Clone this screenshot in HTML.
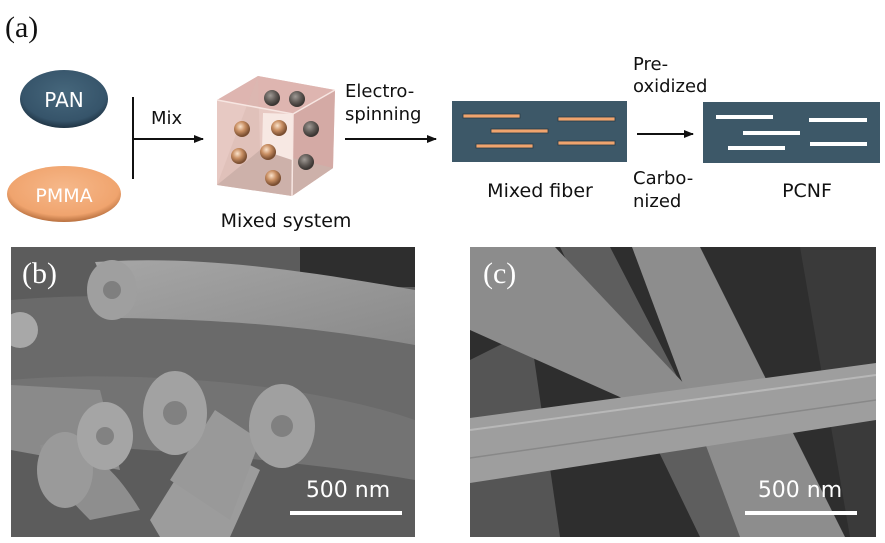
<!DOCTYPE html>
<html><head><meta charset="utf-8"><style>
body{margin:0;width:885px;height:543px;background:#fff;overflow:hidden;position:relative;font-family:"DejaVu Sans","Liberation Sans",sans-serif;}
</style></head><body>
<svg width="885" height="543" viewBox="0 0 885 543" style="position:absolute;left:0;top:0">
<defs>
<radialGradient id="pan" cx="50%" cy="40%" r="60%"><stop offset="0" stop-color="#46677c"/><stop offset="0.8" stop-color="#36546a"/><stop offset="1" stop-color="#1f3444"/></radialGradient>
<radialGradient id="pm" cx="50%" cy="40%" r="60%"><stop offset="0" stop-color="#f6b88a"/><stop offset="0.8" stop-color="#f0a46e"/><stop offset="1" stop-color="#b8703f"/></radialGradient>
<radialGradient id="bo" cx="40%" cy="35%" r="60%"><stop offset="0" stop-color="#fbe3cc"/><stop offset="0.5" stop-color="#c98f63"/><stop offset="1" stop-color="#7a4e31"/></radialGradient>
<radialGradient id="bg" cx="40%" cy="35%" r="60%"><stop offset="0" stop-color="#a09a95"/><stop offset="0.6" stop-color="#5f5955"/><stop offset="1" stop-color="#3b3633"/></radialGradient>
<linearGradient id="fb" x1="0" y1="0" x2="1" y2="1"><stop offset="0" stop-color="#a6a6a6"/><stop offset="1" stop-color="#8a8a8a"/></linearGradient>
<marker id="ar" markerWidth="10" markerHeight="8" refX="9" refY="4" orient="auto" markerUnits="userSpaceOnUse"><path d="M0,0 L10,4 L0,8 z" fill="#111"/></marker>
<clipPath id="cb"><rect x="11" y="247" width="404" height="290"/></clipPath>
<clipPath id="cc"><rect x="470" y="247" width="406" height="290"/></clipPath>
</defs>
<text x="5" y="37" font-family="Liberation Serif,serif" font-size="30" fill="#111">(a)</text>
<ellipse cx="64" cy="99" rx="44" ry="29" fill="url(#pan)"/>
<text x="64" y="107" font-size="20" fill="#fff" text-anchor="middle">PAN</text>
<ellipse cx="64" cy="194" rx="57" ry="28" fill="url(#pm)"/>
<text x="64" y="202" font-size="19" fill="#fff" text-anchor="middle">PMMA</text>
<line x1="133" y1="97" x2="133" y2="179" stroke="#111" stroke-width="2"/>
<line x1="133" y1="139" x2="203" y2="139" stroke="#111" stroke-width="2" marker-end="url(#ar)"/>
<text x="151" y="124" font-size="18" fill="#111">Mix</text>
<polygon points="217,100 258,76 335,90 333,168 292,196 217,185" fill="#e7c9c3"/>
<polygon points="217,100 258,76 335,90 293,114" fill="#deb5b0"/>
<polygon points="293,114 335,90 333,168 292,196" fill="#d4aaa5"/>
<polygon points="258,76 260,150 217,185" fill="#d9b9b2" opacity="0.5"/>
<polygon points="260,150 333,168 292,196 217,185" fill="#cdb1aa"/>
<polygon points="263,113 293,114 292,160 262,150" fill="#f7e8e3"/>
<polyline points="217,100 293,114 335,90" fill="none" stroke="#f7e6e2" stroke-width="1.5"/>
<line x1="293" y1="114" x2="292" y2="196" stroke="#f7e6e2" stroke-width="1.5"/>
<circle cx="272" cy="98" r="8" fill="url(#bg)"/><circle cx="297" cy="99" r="8" fill="url(#bg)"/>
<circle cx="242" cy="129" r="8" fill="url(#bo)"/><circle cx="279" cy="128" r="8" fill="url(#bo)"/><circle cx="311" cy="129" r="8" fill="url(#bg)"/>
<circle cx="239" cy="156" r="8" fill="url(#bo)"/><circle cx="268" cy="152" r="8" fill="url(#bo)"/><circle cx="306" cy="162" r="8" fill="url(#bg)"/>
<circle cx="273" cy="178" r="8" fill="url(#bo)"/>
<text x="286" y="227" font-size="19" fill="#111" text-anchor="middle">Mixed system</text>
<text x="345" y="97" font-size="18" fill="#111">Electro-</text>
<text x="345" y="120" font-size="18" fill="#111">spinning</text>
<line x1="345" y1="139" x2="436" y2="139" stroke="#111" stroke-width="2" marker-end="url(#ar)"/>
<rect x="452" y="101" width="175" height="61" fill="#3d5868"/>
<g fill="#f0a46e" stroke="#2a3b45" stroke-width="0.8">
<rect x="463" y="114" width="57" height="4"/><rect x="491" y="129" width="57" height="4"/><rect x="476" y="144" width="57" height="4"/><rect x="558" y="117" width="57" height="4"/><rect x="558" y="141" width="57" height="4"/></g>
<text x="540" y="197" font-size="19" fill="#111" text-anchor="middle">Mixed fiber</text>
<text x="633" y="70" font-size="18" fill="#111">Pre-</text>
<text x="633" y="92" font-size="18" fill="#111">oxidized</text>
<line x1="637" y1="134" x2="693" y2="134" stroke="#111" stroke-width="2" marker-end="url(#ar)"/>
<text x="633" y="184" font-size="18" fill="#111">Carbo-</text>
<text x="633" y="207" font-size="18" fill="#111">nized</text>
<rect x="703" y="102" width="177" height="61" fill="#3d5868"/>
<g fill="#fff"><rect x="716" y="115" width="57" height="4"/><rect x="743" y="131" width="57" height="4"/><rect x="728" y="146" width="57" height="4"/><rect x="809" y="118" width="58" height="4"/><rect x="810" y="142" width="57" height="4"/></g>
<text x="807" y="197" font-size="19" fill="#111" text-anchor="middle">PCNF</text>

<g clip-path="url(#cb)">
<rect x="11" y="247" width="404" height="290" fill="#5c5c5c"/>
<rect x="300" y="247" width="115" height="40" fill="#2e2e2e"/>
<path d="M11,300 C120,290 250,300 415,330 L415,420 C300,390 150,380 11,380z" fill="#6a6a6a"/>
<path d="M11,380 C120,370 300,380 415,420 L415,480 C300,460 150,450 11,440z" fill="#737373"/>
<path d="M11,385 L100,390 L120,470 L11,450z" fill="#8a8a8a"/>
<path d="M40,445 C80,440 110,460 140,510 L90,520 C60,490 45,470 40,445z" fill="#8e8e8e"/>
<ellipse cx="65" cy="470" rx="28" ry="38" fill="#9a9a9a"/>
<path d="M95,262 C200,255 300,270 415,290 L415,345 C330,330 250,320 120,318z" fill="url(#fb)"/>
<ellipse cx="112" cy="290" rx="25" ry="30" fill="#9f9f9f"/>
<circle cx="20" cy="330" r="18" fill="#a8a8a8"/>
<path d="M150,520 L200,440 L260,470 L230,537 L160,537z" fill="#9c9c9c"/>
<path d="M170,480 L215,410 L260,440 L230,520z" fill="#999"/>
<ellipse cx="105" cy="436" rx="28" ry="34" fill="#a5a5a5"/>
<ellipse cx="175" cy="413" rx="32" ry="42" fill="#a2a2a2"/>
<ellipse cx="282" cy="426" rx="33" ry="42" fill="#a0a0a0"/>
<g fill="#6a6a6a" opacity="0.6"><circle cx="175" cy="413" r="12"/><circle cx="282" cy="426" r="11"/><circle cx="105" cy="436" r="9"/><circle cx="112" cy="290" r="9"/></g>
<text x="22" y="283" font-family="Liberation Serif,serif" font-size="30" fill="#fff">(b)</text>
<text x="348" y="497" font-size="22" fill="#fff" text-anchor="middle">500 nm</text>
<rect x="290" y="511" width="112" height="4" fill="#fff"/>
</g>
<g clip-path="url(#cc)">
<rect x="470" y="247" width="406" height="290" fill="#2e2e2e"/>
<path d="M560,247 L610,247 L760,537 L700,537z" fill="#5e5e5e"/>
<path d="M470,360 L530,330 L560,537 L470,537z" fill="#555"/>
<path d="M800,247 L876,247 L876,537 L850,537z" fill="#3a3a3a"/>
<path d="M632,247 L700,247 L845,537 L740,537z" fill="#8d8d8d"/>
<path d="M470,247 L555,247 L690,390 L660,415 L470,330z" fill="#8c8c8c"/>
<path d="M470,418 L876,363 L876,420 L470,483z" fill="#9e9e9e"/>
<path d="M470,430 L876,375" stroke="#b8b8b8" stroke-width="2"/>
<path d="M470,458 L876,400" stroke="#888" stroke-width="1.5"/>
<text x="483" y="283" font-family="Liberation Serif,serif" font-size="30" fill="#fff">(c)</text>
<text x="800" y="497" font-size="22" fill="#fff" text-anchor="middle">500 nm</text>
<rect x="745" y="511" width="112" height="4" fill="#fff"/>
</g>
</svg>
</body></html>
